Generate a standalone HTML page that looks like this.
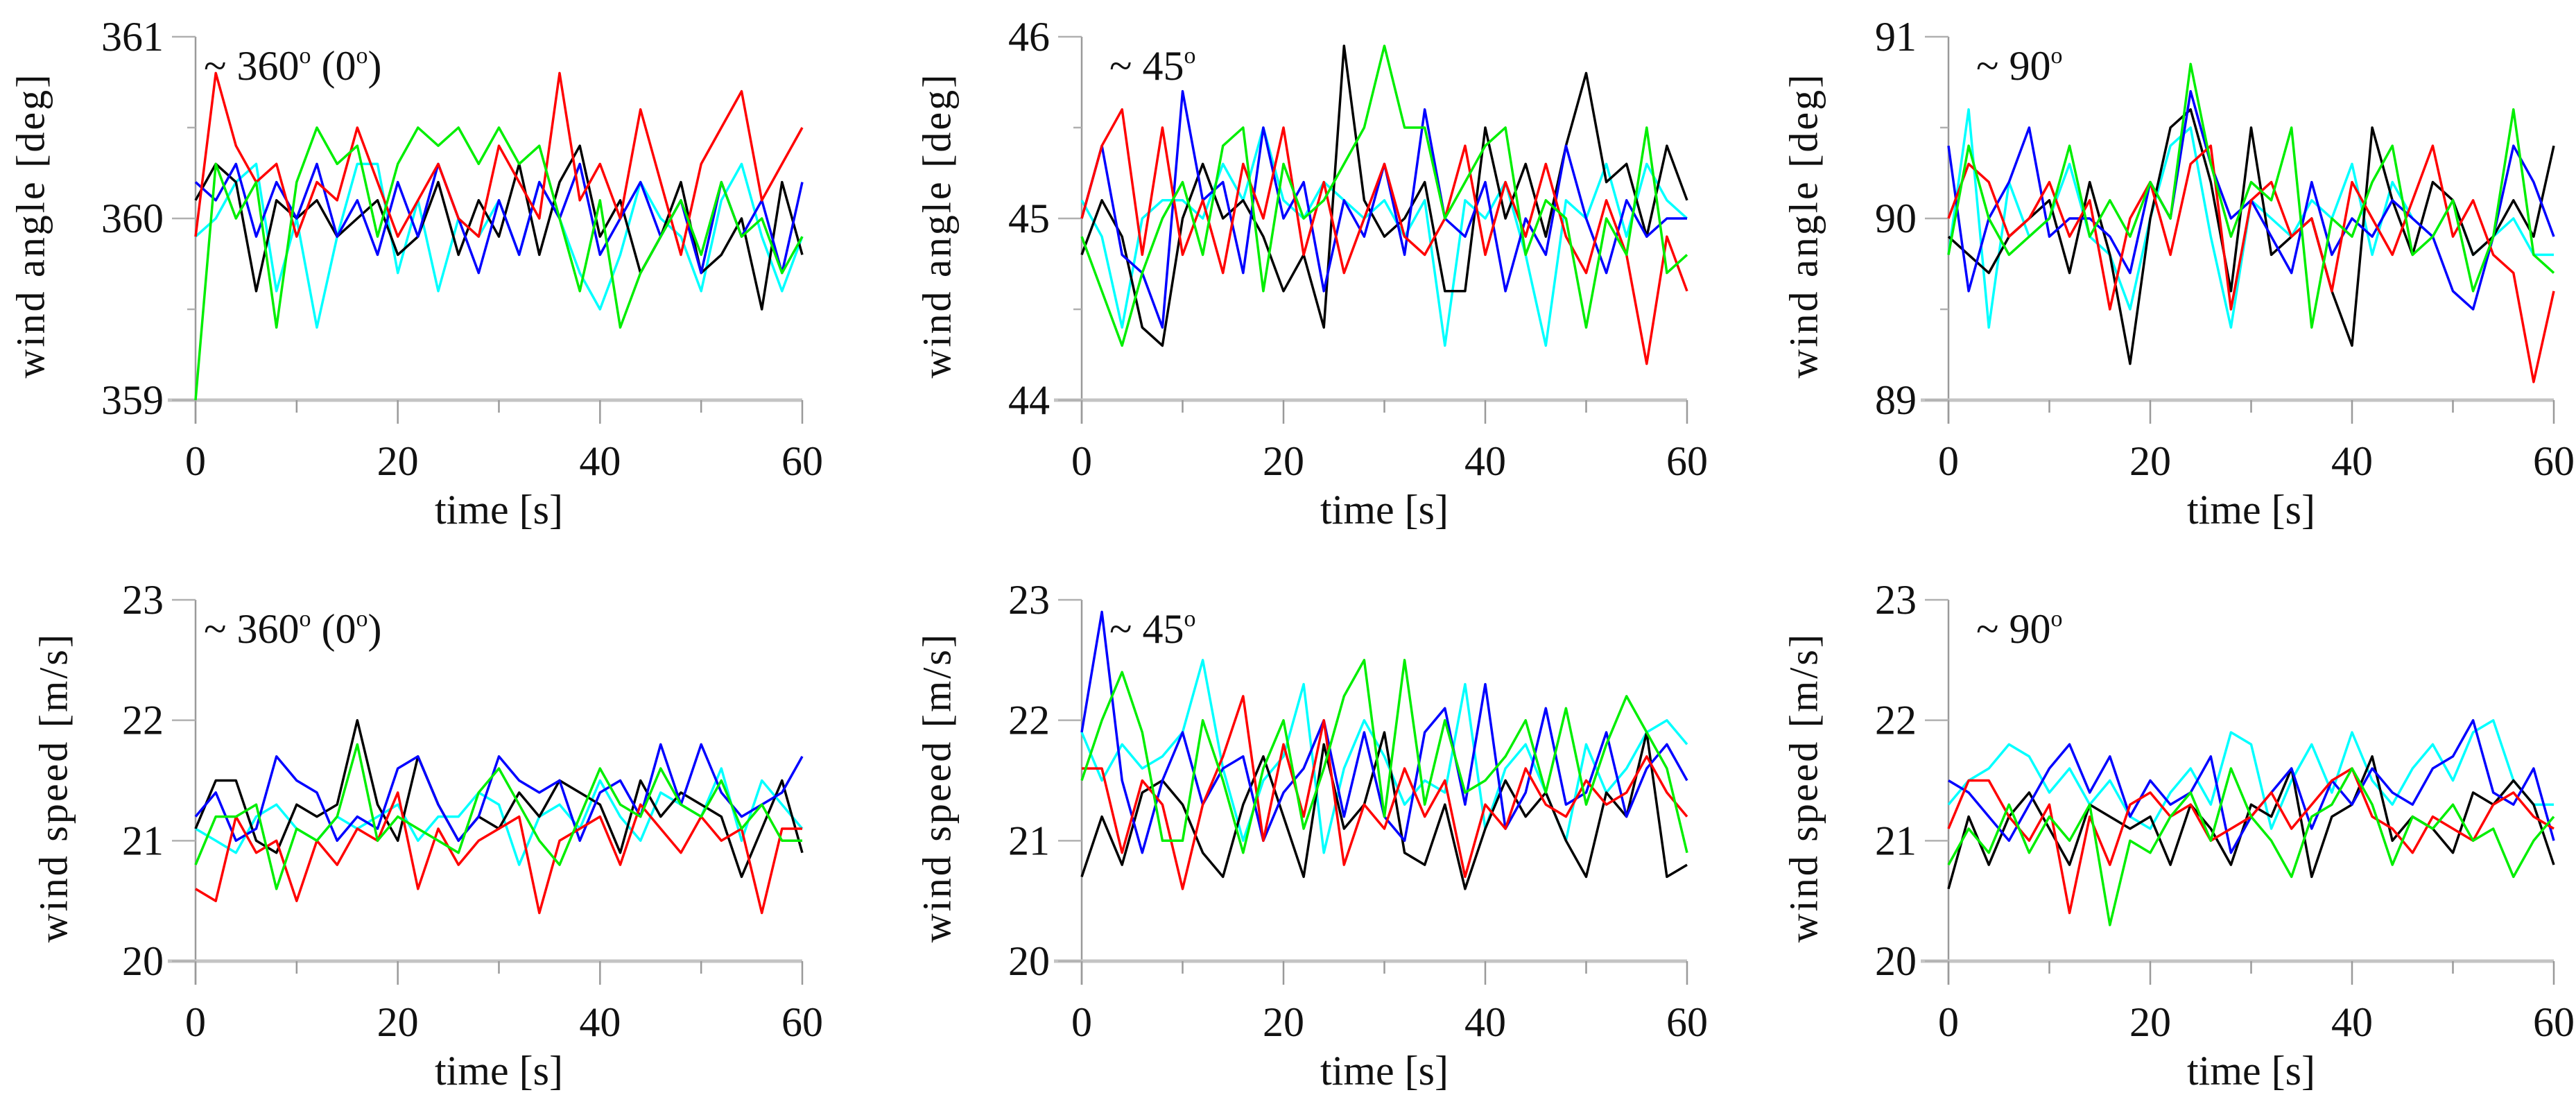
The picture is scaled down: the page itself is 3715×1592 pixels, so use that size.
<!DOCTYPE html>
<html><head><meta charset="utf-8"><style>
html,body{margin:0;padding:0;background:#fff;}
svg{display:block;}
text{font-family:"Liberation Serif",serif;fill:#111;}
</style></head><body>
<svg id="fig" width="3715" height="1592" viewBox="0 0 3715 1592" xmlns="http://www.w3.org/2000/svg"></svg>
<script>
const timeTicks = [0, 20, 40, 60];
const angleTicks1 = [359, 360, 361];
const angleTicks2 = [44, 45, 46];
const angleTicks3 = [89, 90, 91];
const speedTicks = [20, 21, 22, 23];
const seriesNames = ["cyan", "black", "blue", "red", "green"];
const seriesColors = ["#00ffff", "#000000", "#0000ff", "#ff0000", "#00ee00"];
const sampleStep = 2;

const black1 = [360.1,360.3,360.2,359.6,360.1,360.0,360.1,359.9,360.0,360.1,359.8,359.9,360.2,359.8,360.1,359.9,360.3,359.8,360.2,360.4,359.9,360.1,359.7,359.9,360.2,359.7,359.8,360.0,359.5,360.2,359.8];
const red1 = [359.9,360.8,360.4,360.2,360.3,359.9,360.2,360.1,360.5,360.2,359.9,360.1,360.3,360.0,359.9,360.4,360.2,360.0,360.8,360.1,360.3,360.0,360.6,360.2,359.8,360.3,360.5,360.7,360.1,360.3,360.5];
const blue1 = [360.2,360.1,360.3,359.9,360.2,360.0,360.3,359.9,360.1,359.8,360.2,359.9,360.3,360.0,359.7,360.1,359.8,360.2,360.0,360.3,359.8,360.0,360.2,359.9,360.1,359.7,360.2,359.9,360.1,359.7,360.2];
const cyan1 = [359.9,360.0,360.2,360.3,359.6,360.0,359.4,359.9,360.3,360.3,359.7,360.1,359.6,360.0,359.9,360.1,359.8,360.2,360.0,359.7,359.5,359.8,360.2,360.0,359.9,359.6,360.1,360.3,359.9,359.6,359.9];
const green1 = [359.0,360.3,360.0,360.2,359.4,360.2,360.5,360.3,360.4,359.9,360.3,360.5,360.4,360.5,360.3,360.5,360.3,360.4,360.0,359.6,360.1,359.4,359.7,359.9,360.1,359.8,360.2,359.9,360.0,359.7,359.9];

const black2 = [44.8,45.1,44.9,44.4,44.3,45.0,45.3,45.0,45.1,44.9,44.6,44.8,44.4,45.95,45.1,44.9,45.0,45.2,44.6,44.6,45.5,45.0,45.3,44.9,45.4,45.8,45.2,45.3,44.9,45.4,45.1];
const red2 = [45.0,45.4,45.6,44.8,45.5,44.8,45.1,44.7,45.3,45.0,45.5,44.8,45.2,44.7,45.0,45.3,44.9,44.8,45.0,45.4,44.8,45.2,44.9,45.3,44.9,44.7,45.1,44.8,44.2,44.9,44.6];
const blue2 = [45.0,45.4,44.8,44.7,44.4,45.7,45.1,45.2,44.7,45.5,45.0,45.2,44.6,45.1,44.9,45.3,44.8,45.6,45.0,44.9,45.2,44.6,45.0,44.8,45.4,45.0,44.7,45.1,44.9,45.0,45.0];
const cyan2 = [45.1,44.9,44.4,45.0,45.1,45.1,45.0,45.3,45.1,45.5,45.1,45.0,45.2,45.1,45.0,45.1,44.9,45.1,44.3,45.1,45.0,45.2,44.8,44.3,45.1,45.0,45.3,44.9,45.3,45.1,45.0];
const green2 = [44.9,44.6,44.3,44.7,45.0,45.2,44.8,45.4,45.5,44.6,45.3,45.0,45.1,45.3,45.5,45.95,45.5,45.5,45.0,45.2,45.4,45.5,44.8,45.1,45.0,44.4,45.0,44.8,45.5,44.7,44.8];

const black3 = [89.9,89.8,89.7,89.9,90.0,90.1,89.7,90.2,89.8,89.2,90.0,90.5,90.6,90.2,89.6,90.5,89.8,89.9,90.0,89.6,89.3,90.5,90.1,89.8,90.2,90.1,89.8,89.9,90.1,89.9,90.4];
const red3 = [90.0,90.3,90.2,89.9,90.0,90.2,89.9,90.1,89.5,90.0,90.2,89.8,90.3,90.4,89.5,90.1,90.2,89.9,90.0,89.6,90.2,90.0,89.8,90.1,90.4,89.9,90.1,89.8,89.7,89.1,89.6];
const blue3 = [90.4,89.6,90.0,90.2,90.5,89.9,90.0,90.0,89.9,89.7,90.2,90.0,90.7,90.3,90.0,90.1,89.9,89.7,90.2,89.8,90.0,89.9,90.1,90.0,89.9,89.6,89.5,89.9,90.4,90.2,89.9];
const cyan3 = [89.8,90.6,89.4,90.2,89.9,90.0,90.3,89.9,89.8,89.5,90.0,90.4,90.5,89.9,89.4,90.1,90.0,89.9,90.1,90.0,90.3,89.8,90.2,90.0,89.9,90.1,89.8,89.9,90.0,89.8,89.8];
const green3 = [89.8,90.4,90.0,89.8,89.9,90.0,90.4,89.9,90.1,89.9,90.2,90.0,90.85,90.3,89.9,90.2,90.1,90.5,89.4,90.0,89.9,90.2,90.4,89.8,89.9,90.1,89.6,89.9,90.6,89.8,89.7];

const black4 = [21.1,21.5,21.5,21.0,20.9,21.3,21.2,21.3,22.0,21.3,21.0,21.7,21.3,21.0,21.2,21.1,21.4,21.2,21.5,21.4,21.3,20.9,21.5,21.2,21.4,21.3,21.2,20.7,21.1,21.5,20.9];
const red4 = [20.6,20.5,21.2,20.9,21.0,20.5,21.0,20.8,21.1,21.0,21.4,20.6,21.1,20.8,21.0,21.1,21.2,20.4,21.0,21.1,21.2,20.8,21.3,21.1,20.9,21.2,21.0,21.1,20.4,21.1,21.1];
const blue4 = [21.2,21.4,21.0,21.1,21.7,21.5,21.4,21.0,21.2,21.1,21.6,21.7,21.3,21.0,21.2,21.7,21.5,21.4,21.5,21.0,21.4,21.5,21.2,21.8,21.3,21.8,21.4,21.2,21.3,21.4,21.7];
const cyan4 = [21.1,21.0,20.9,21.2,21.3,21.1,21.0,21.2,21.1,21.2,21.3,21.0,21.2,21.2,21.4,21.3,20.8,21.2,21.3,21.1,21.5,21.2,21.0,21.4,21.3,21.2,21.6,21.0,21.5,21.3,21.1];
const green4 = [20.8,21.2,21.2,21.3,20.6,21.1,21.0,21.2,21.8,21.0,21.2,21.1,21.0,20.9,21.4,21.6,21.3,21.0,20.8,21.2,21.6,21.3,21.2,21.6,21.3,21.2,21.5,21.1,21.3,21.0,21.0];

const black5 = [20.7,21.2,20.8,21.4,21.5,21.3,20.9,20.7,21.3,21.7,21.2,20.7,21.8,21.1,21.3,21.9,20.9,20.8,21.3,20.6,21.1,21.5,21.2,21.4,21.0,20.7,21.4,21.2,21.9,20.7,20.8];
const red5 = [21.6,21.6,20.9,21.5,21.3,20.6,21.3,21.7,22.2,21.0,21.8,21.2,22.0,20.8,21.3,21.1,21.6,21.2,21.5,20.7,21.3,21.1,21.6,21.3,21.2,21.5,21.3,21.4,21.7,21.4,21.2];
const blue5 = [21.9,22.9,21.5,20.9,21.5,21.9,21.3,21.6,21.7,21.0,21.4,21.6,22.0,21.2,21.9,21.2,21.0,21.9,22.1,21.3,22.3,21.1,21.4,22.1,21.3,21.4,21.9,21.2,21.6,21.8,21.5];
const cyan5 = [21.9,21.5,21.8,21.6,21.7,21.9,22.5,21.6,21.0,21.5,21.7,22.3,20.9,21.6,22.0,21.7,21.3,21.5,21.4,22.3,21.1,21.6,21.8,21.4,21.0,21.8,21.4,21.6,21.9,22.0,21.8];
const green5 = [21.5,22.0,22.4,21.9,21.0,21.0,22.0,21.5,20.9,21.6,22.0,21.1,21.6,22.2,22.5,21.2,22.5,21.3,22.0,21.4,21.5,21.7,22.0,21.4,22.1,21.3,21.8,22.2,21.9,21.6,20.9];

const black6 = [20.6,21.2,20.8,21.2,21.4,21.1,20.8,21.3,21.2,21.1,21.2,20.8,21.3,21.1,20.8,21.3,21.2,21.6,20.7,21.2,21.3,21.7,21.0,21.2,21.1,20.9,21.4,21.3,21.5,21.3,20.8];
const red6 = [21.1,21.5,21.5,21.2,21.0,21.3,20.4,21.2,20.8,21.3,21.4,21.2,21.3,21.0,21.1,21.2,21.4,21.1,21.3,21.5,21.6,21.2,21.1,20.9,21.2,21.1,21.0,21.3,21.4,21.2,21.1];
const blue6 = [21.5,21.4,21.2,21.0,21.3,21.6,21.8,21.4,21.7,21.2,21.5,21.3,21.4,21.7,20.9,21.2,21.4,21.6,21.1,21.5,21.3,21.6,21.4,21.3,21.6,21.7,22.0,21.4,21.3,21.6,21.0];
const cyan6 = [21.3,21.5,21.6,21.8,21.7,21.4,21.6,21.3,21.5,21.2,21.1,21.4,21.6,21.3,21.9,21.8,21.1,21.5,21.8,21.4,21.9,21.5,21.3,21.6,21.8,21.5,21.9,22.0,21.5,21.3,21.3];
const green6 = [20.8,21.1,20.9,21.3,20.9,21.2,21.0,21.3,20.3,21.0,20.9,21.2,21.4,21.0,21.6,21.2,21.0,20.7,21.2,21.3,21.6,21.3,20.8,21.2,21.1,21.3,21.0,21.1,20.7,21.0,21.2];

const panels = [
  {id:"angle-360", x0:282, x1:1157, y0:53, y1:577, ticks:angleTicks1, minor:true, ylab:"wind angle [deg]", ylx:50, note:"~ 360", note2:" (0", note3:")", series:[cyan1,black1,blue1,red1,green1]},
  {id:"angle-45", x0:1560, x1:2433, y0:53, y1:577, ticks:angleTicks2, minor:true, ylab:"wind angle [deg]", ylx:1357, note:"~ 45", series:[cyan2,black2,blue2,red2,green2]},
  {id:"angle-90", x0:2810, x1:3683, y0:53, y1:577, ticks:angleTicks3, minor:true, ylab:"wind angle [deg]", ylx:2607, note:"~ 90", series:[cyan3,black3,blue3,red3,green3]},
  {id:"speed-360", x0:282, x1:1157, y0:865, y1:1386, ticks:speedTicks, minor:false, ylab:"wind speed [m/s]", ylx:83, note:"~ 360", note2:" (0", note3:")", series:[cyan4,black4,blue4,red4,green4]},
  {id:"speed-45", x0:1560, x1:2433, y0:865, y1:1386, ticks:speedTicks, minor:false, ylab:"wind speed [m/s]", ylx:1357, note:"~ 45", series:[cyan5,black5,blue5,red5,green5]},
  {id:"speed-90", x0:2810, x1:3683, y0:865, y1:1386, ticks:speedTicks, minor:false, ylab:"wind speed [m/s]", ylx:2607, note:"~ 90", series:[cyan6,black6,blue6,red6,green6]}
];

const NS = "http://www.w3.org/2000/svg";
const svg = document.getElementById("fig");
function mk(tag, attrs, parent){
  const e = document.createElementNS(NS, tag);
  for (const k in attrs) e.setAttribute(k, attrs[k]);
  parent.appendChild(e);
  return e;
}

panels.forEach(function(p){
  const g = mk("g", {}, svg);
  
  
  const tmin = timeTicks[0], tmax = timeTicks[timeTicks.length-1];
  const vmin = p.ticks[0], vmax = p.ticks[p.ticks.length-1];
  const sx = function(t){ return p.x0 + (t - tmin) / (tmax - tmin) * (p.x1 - p.x0); };
  const sy = function(v){ return p.y1 - (v - vmin) / (vmax - vmin) * (p.y1 - p.y0); };

  // y axis
  const ya = mk("line", {x1:p.x0, y1:p.y0, x2:p.x0, y2:p.y1+34, stroke:"#9a9a9a", "stroke-width":2.5}, g);
  
  
  // x axis
  const xa = mk("line", {x1:p.x0-40, y1:p.y1, x2:p.x1, y2:p.y1, stroke:"#c4c4c4", "stroke-width":5}, g);
  
  

  // x ticks (major + minor every 10)
  for (let t = tmin; t <= tmax; t += 10) {
    const major = timeTicks.indexOf(t) >= 0;
    const tk = mk("line", {x1:sx(t), y1:p.y1, x2:sx(t), y2:p.y1 + (major ? 34 : 18), stroke:"#9a9a9a", "stroke-width":2.5}, g);
    
    
  }
  timeTicks.forEach(function(t){
    const tl = mk("text", {x:sx(t), y:p.y1 + 108, "font-size":60, "text-anchor":"middle"}, g);
    tl.textContent = String(t);
    
    
  });
  // y ticks
  p.ticks.forEach(function(v){
    const tk = mk("line", {x1:p.x0-34, y1:sy(v), x2:p.x0, y2:sy(v), stroke:"#b0b0b0", "stroke-width":2.5}, g);
    
    
    const tl = mk("text", {x:p.x0-46, y:sy(v)+20, "font-size":60, "text-anchor":"end"}, g);
    tl.textContent = String(v);
    
    
  });
  if (p.minor) {
    for (let i = 0; i < p.ticks.length-1; i++) {
      const v = (p.ticks[i] + p.ticks[i+1]) / 2;
      const tk = mk("line", {x1:p.x0-12, y1:sy(v), x2:p.x0, y2:sy(v), stroke:"#b0b0b0", "stroke-width":2.5}, g);
      
      
    }
  }
  // axis titles
  const xt = mk("text", {x:(p.x0+p.x1)/2, y:p.y1 + 178, "font-size":60, "text-anchor":"middle"}, g);
  xt.textContent = "time [s]";
  
  
  const cy = (p.y0 + p.y1) / 2 + 10;
  const yt = mk("text", {x:p.ylx, y:cy, "font-size":58, "text-anchor":"middle", "letter-spacing":3, transform:"rotate(-90 " + p.ylx + " " + cy + ")", "dominant-baseline":"middle"}, g);
  yt.textContent = p.ylab;
  
  

  // series
  p.series.forEach(function(arr, si){
    let d = "";
    arr.forEach(function(v, i){
      d += (i ? "L" : "M") + sx(i*sampleStep).toFixed(1) + "," + sy(v).toFixed(1);
    });
    const pl = mk("path", {d:d, fill:"none", stroke:seriesColors[si], "stroke-width":3.5, "stroke-linejoin":"round"}, g);
    
    
  });

  // annotation
  const ny = p.y0 + 62;
  const an = mk("text", {x:p.x0 + (p.note2 ? 12 : 40), y:ny, "font-size":60}, g);
  
  
  let s = document.createElementNS(NS, "tspan"); s.textContent = p.note; an.appendChild(s);
  s = document.createElementNS(NS, "tspan"); s.setAttribute("font-size", "34"); s.setAttribute("dy", "-24"); s.textContent = "o"; an.appendChild(s);
  if (p.note2) {
    s = document.createElementNS(NS, "tspan"); s.setAttribute("dy", "24"); s.textContent = p.note2; an.appendChild(s);
    s = document.createElementNS(NS, "tspan"); s.setAttribute("font-size", "34"); s.setAttribute("dy", "-24"); s.textContent = "o"; an.appendChild(s);
    s = document.createElementNS(NS, "tspan"); s.setAttribute("dy", "24"); s.textContent = p.note3; an.appendChild(s);
  }
});
</script>
</body></html>
